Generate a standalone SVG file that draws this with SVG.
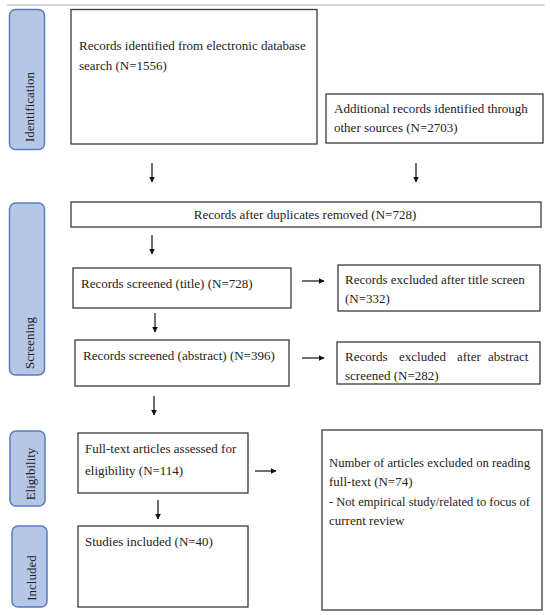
<svg xmlns="http://www.w3.org/2000/svg" width="550" height="615" viewBox="0 0 550 615">
<defs>
<marker id="ah" viewBox="0 0 10 10" refX="9" refY="5" markerWidth="6" markerHeight="6" orient="auto" markerUnits="userSpaceOnUse">
<path d="M0,0 L10,5 L0,10 z" fill="#111"/>
</marker>
<style>
.box{fill:#fff;stroke:#3a3a3a;stroke-width:1.3}
.pill{fill:#b4c7e7;stroke:#5a7bbf;stroke-width:1.5}
.t{font-family:"Liberation Serif","Times New Roman",serif;font-size:13px;fill:#222}
.pt{font-family:"Liberation Serif","Times New Roman",serif;font-size:13px;fill:#222;text-anchor:middle}
.c{stroke:#111;stroke-width:1.2;fill:none;marker-end:url(#ah)}
</style>
</defs>
<rect width="550" height="615" fill="#fff"/>
<line x1="7" y1="5" x2="545" y2="5" stroke="#d9d9d9" stroke-width="2"/>

<g id="stage-identification">
<rect class="pill" x="9.5" y="9.5" width="35" height="140" rx="6"/>
<text class="pt" transform="translate(34,107) rotate(-90)">Identification</text>
</g>
<g id="stage-screening">
<rect class="pill" x="9.5" y="203" width="35" height="172" rx="6"/>
<text class="pt" transform="translate(33.5,343) rotate(-90)">Screening</text>
</g>
<g id="stage-eligibility">
<rect class="pill" x="10" y="431" width="35" height="75" rx="6"/>
<text class="pt" transform="translate(34.5,474) rotate(-90)">Eligibility</text>
</g>
<g id="stage-included">
<rect class="pill" x="12" y="526" width="35" height="81" rx="6"/>
<text class="pt" transform="translate(35.5,578) rotate(-90)">Included</text>
</g>

<g id="n-db">
<rect class="box" x="71" y="9.5" width="246" height="134.5"/>
<text class="t" x="79" y="50">Records identified from electronic database</text>
<text class="t" x="79" y="70">search (N=1556)</text>
</g>
<g id="n-other">
<rect class="box" x="326" y="94" width="217" height="49"/>
<text class="t" x="334" y="113">Additional records identified through</text>
<text class="t" x="334" y="132">other sources (N=2703)</text>
</g>
<g id="n-dup">
<rect class="box" x="71" y="202" width="470" height="25"/>
<text class="t" x="305" y="219" text-anchor="middle">Records after duplicates removed (N=728)</text>
</g>
<g id="n-title">
<rect class="box" x="73" y="268" width="218" height="40"/>
<text class="t" x="81" y="288">Records screened (title) (N=728)</text>
</g>
<g id="n-title-ex">
<rect class="box" x="338" y="265" width="202" height="46"/>
<text class="t" x="345" y="284">Records excluded after title screen</text>
<text class="t" x="345" y="303">(N=332)</text>
</g>
<g id="n-abs">
<rect class="box" x="75" y="340" width="214" height="46"/>
<text class="t" x="83" y="360">Records screened (abstract) (N=396)</text>
</g>
<g id="n-abs-ex">
<rect class="box" x="337" y="342" width="203" height="42"/>
<text class="t" y="361"><tspan x="345">Records</tspan><tspan x="399">excluded</tspan><tspan x="457">after</tspan><tspan x="488">abstract</tspan></text>
<text class="t" x="345" y="380">screened (N=282)</text>
</g>
<g id="n-full">
<rect class="box" x="78" y="433" width="170" height="60"/>
<text class="t" x="85" y="453">Full-text articles assessed for</text>
<text class="t" x="85" y="475">eligibility (N=114)</text>
</g>
<g id="n-full-ex">
<rect class="box" x="322" y="430" width="220" height="180"/>
<text class="t" x="329" y="467" textLength="201" lengthAdjust="spacingAndGlyphs">Number of articles excluded on reading</text>
<text class="t" x="329" y="486">full-text (N=74)</text>
<text class="t" x="329" y="506" textLength="201" lengthAdjust="spacingAndGlyphs">- Not empirical study/related to focus of</text>
<text class="t" x="329" y="525">current review</text>
</g>
<g id="n-incl">
<rect class="box" x="78" y="526" width="170" height="81"/>
<text class="t" x="85" y="546">Studies included (N=40)</text>
</g>

<g id="connectors">
<line class="c" x1="152" y1="163" x2="152" y2="182"/>
<line class="c" x1="416" y1="163" x2="416" y2="182"/>
<line class="c" x1="152" y1="235" x2="152" y2="254"/>
<line class="c" x1="302" y1="281" x2="324" y2="281"/>
<line class="c" x1="155" y1="313" x2="155" y2="332"/>
<line class="c" x1="302" y1="358" x2="324" y2="358"/>
<line class="c" x1="154" y1="396" x2="154" y2="415"/>
<line class="c" x1="255" y1="471" x2="276" y2="471"/>
<line class="c" x1="158" y1="500" x2="158" y2="519"/>
</g>
</svg>
